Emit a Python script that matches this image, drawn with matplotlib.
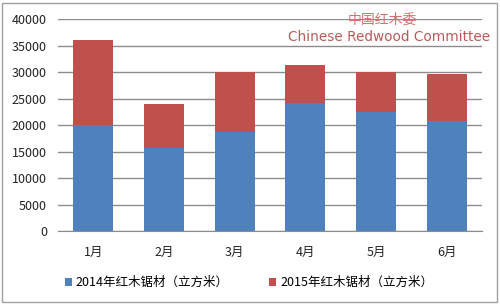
import matplotlib.pyplot as plt
from matplotlib.patches import Rectangle

plt.rcParams['font.family'] = ['Noto Sans CJK SC', 'DejaVu Sans']

# 数据
months = ['1月', '2月', '3月', '4月', '5月', '6月']
sawn_2014 = [20000, 15600, 18600, 24200, 22500, 20800]
total_2015 = [36100, 23900, 30000, 31300, 30000, 29600]
# 图中红色部分堆叠在蓝色上面，高度为差值
sawn_2015 = [t - b for t, b in zip(total_2015, sawn_2014)]
yticks = [0, 5000, 10000, 15000, 20000, 25000, 30000, 35000, 40000]

blue = '#4F81BD'
red = '#C0504D'

fig = plt.figure(figsize=(5, 3.04), dpi=100)
ax = fig.add_axes([0.116, 0.24, 0.848, 0.6975])

x = range(len(months))
ax.bar(x, sawn_2014, width=0.57, color=blue, label='2014年红木锯材（立方米）', zorder=3)
ax.bar(x, sawn_2015, width=0.57, bottom=sawn_2014, color=red,
       label='2015年红木锯材（立方米）', zorder=3)

ax.set_ylim(0, 40000)
ax.set_xlim(-0.5, len(months) - 0.5)
ax.set_yticks(yticks)
ax.set_yticklabels([str(v) for v in yticks], fontsize=9)
ax.set_xticks(list(x))
ax.set_xticklabels(months, fontsize=9)
ax.yaxis.grid(True, color='#8c8c8c', linewidth=1, zorder=0)
ax.set_axisbelow(True)
for s in ['top', 'right', 'left']:
    ax.spines[s].set_visible(False)
ax.spines['bottom'].set_color('#8c8c8c')
ax.tick_params(axis='both', length=0, colors='#222222')
ax.tick_params(axis='x', pad=11)
ax.tick_params(axis='y', pad=8)

ax.legend(loc='upper center', bbox_to_anchor=(0.45, -0.16), ncol=2, frameon=False,
          fontsize=9, handlelength=0.6, handleheight=0.6, handletextpad=0.3,
          columnspacing=3.2)

# 水印
fig.text(0.764, 0.935, '中国红木委', color='#d87070', fontsize=10, ha='center', va='center')
fig.text(0.778, 0.878, 'Chinese Redwood Committee', color='#b85a5a', fontsize=9.8,
         ha='center', va='center', family=['DejaVu Sans'])

fig.patches.append(Rectangle((0.004, 0.006), 0.99, 0.985, transform=fig.transFigure,
                             fill=False, edgecolor='#a0a0a0', linewidth=1))

fig.savefig('out.png', dpi=100)
